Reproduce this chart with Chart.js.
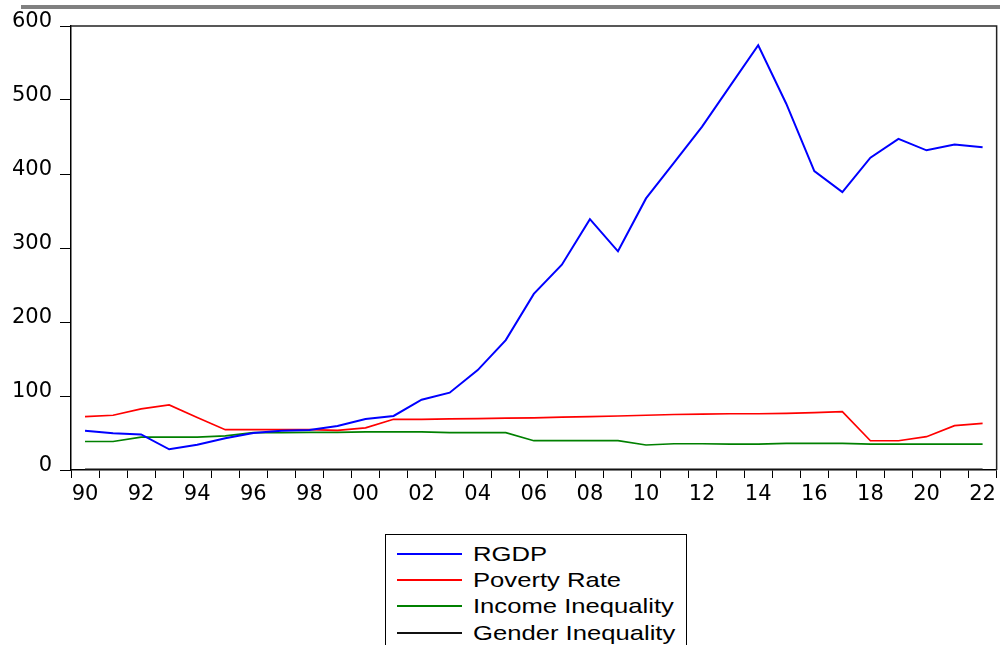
<!DOCTYPE html>
<html>
<head>
<meta charset="utf-8">
<script src="https://cdn.jsdelivr.net/npm/chart.js@4"></script>
<style>
  html, body { margin: 0; padding: 0; background: #fff; }
  #wrap { position: relative; width: 1000px; height: 645px; overflow: hidden; background: #fff; }
  #topbar { position: absolute; left: 21px; top: 5px; width: 979px; height: 4px; background: #808080; }
  #chart { position: absolute; left: 0; top: 0; }
  #legend { position: absolute; left: 385px; top: 534px; width: 302px; height: 130px;
            border: 1px solid #000; box-sizing: border-box; background: #fff; }
  .row { position: absolute; left: 0; height: 26px; width: 100%; }
  .swatch { position: absolute; left: 11px; width: 65px; height: 2px; top: 12px; }
  .lbl { position: absolute; left: 87px; top: 0; font-family: "Liberation Sans", Arial, sans-serif;
         font-size: 21px; line-height: 26px; color: #000; white-space: nowrap;
         transform: scaleX(1.22); transform-origin: 0 50%; }
</style>
</head>
<body>
<div id="wrap">
  <div id="topbar"></div>
  <canvas id="chart" width="1000" height="645"></canvas>
  <div id="legend"></div>
</div>
<script>
// ---- data ----
const years = ['90','91','92','93','94','95','96','97','98','99','00','01','02','03','04','05',
               '06','07','08','09','10','11','12','13','14','15','16','17','18','19','20','21','22'];
const rgdp = [53, 49.5, 48, 28, 34, 43, 50, 53, 54, 59.5, 69, 73, 95, 104.5, 135, 175.5,
              238, 277.5, 339, 295.5, 367, 415.5, 464, 519, 574, 495, 404, 375.5, 422, 447.5, 432, 440, 436];
const povertyRate = [72, 74, 82.5, 88, 71, 54.5, 54.5, 54.5, 54.5, 53.5, 57, 68.5, 68.5, 69, 69.5, 70,
                     70.5, 71.5, 72, 73, 74, 75, 75.5, 76, 76, 76.5, 77.5, 79, 39.5, 39.5, 45, 60, 63];
const incomeInequality = [38.5, 38.5, 44.5, 44.5, 44.5, 46, 50.4, 50.6, 50.8, 50.8, 51.4, 51.4, 51.4, 50.4, 50.4, 50.4,
                          39.6, 39.6, 39.6, 39.6, 33.8, 35.5, 35.5, 35, 35, 36, 36, 36, 35, 35, 35, 35, 35];
const genderInequality = [0.6, 0.6, 0.6, 0.6, 0.6, 0.6, 0.6, 0.6, 0.6, 0.6, 0.6, 0.6, 0.6, 0.6, 0.6, 0.6,
                          0.6, 0.6, 0.6, 0.6, 0.6, 0.6, 0.6, 0.6, 0.6, 0.6, 0.6, 0.6, 0.6, 0.6, 0.6, 0.6, 0.6];
const yTicks = [0, 100, 200, 300, 400, 500, 600];
const seriesNames = ['RGDP', 'Poverty Rate', 'Income Inequality', 'Gender Inequality'];
const seriesColors = ['#0000ff', '#ff0000', '#008000', '#111111'];

// ---- chart ----
const seriesData = [rgdp, povertyRate, incomeInequality, genderInequality];
const widths = [2, 1.7, 1.7, 2];
const datasets = seriesNames.map((n, i) => ({
  label: n, data: seriesData[i], borderColor: seriesColors[i], backgroundColor: seriesColors[i],
  borderWidth: widths[i], pointRadius: 0, tension: 0, fill: false
}));

const framePlugin = {
  id: 'frame',
  afterDatasetsDraw(chart) {
    const a = chart.chartArea, ctx = chart.ctx;
    ctx.save();
    ctx.strokeStyle = '#222';
    ctx.lineWidth = 1.5;
    ctx.beginPath();
    ctx.moveTo(a.left, a.top);
    ctx.lineTo(a.right, a.top);
    ctx.lineTo(a.right, a.bottom);
    ctx.stroke();
    ctx.restore();
  }
};

new Chart(document.getElementById('chart'), {
  type: 'line',
  data: { labels: years, datasets },
  plugins: [framePlugin],
  options: {
    responsive: false,
    animation: false,
    devicePixelRatio: 1,
    layout: { padding: { top: 26, right: 2, left: 0, bottom: 0 } },
    plugins: { legend: { display: false }, tooltip: { enabled: false } },
    scales: {
      x: {
        type: 'category',
        offset: true,
        grid: { offset: true, drawOnChartArea: false, drawTicks: true, tickLength: 8, color: '#000', lineWidth: 1 },
        border: { display: true, color: '#000', width: 1.5 },
        ticks: {
          autoSkip: false, maxRotation: 0, minRotation: 0, padding: 4, color: '#000',
          font: { family: 'DejaVu Sans', size: 21 },
          callback: (v, i) => (i % 2 === 0 ? years[i] : '')
        },
        afterFit: s => { s.height = 175; }
      },
      y: {
        type: 'linear',
        min: 0, max: 600,
        afterBuildTicks: s => { s.ticks = yTicks.map(v => ({ value: v })); },
        grid: { drawOnChartArea: false, drawTicks: true, tickLength: 11, color: '#000', lineWidth: 1 },
        border: { display: true, color: '#000', width: 1.5 },
        ticks: {
          padding: 8, color: '#000', labelOffset: -4,
          font: { family: 'DejaVu Sans', size: 21 }
        },
        afterFit: s => { s.width = 71; }
      }
    }
  }
});

// ---- legend (HTML, built from series arrays) ----
const leg = document.getElementById('legend');
seriesNames.forEach((n, i) => {
  const row = document.createElement('div');
  row.className = 'row';
  row.style.top = (6 + i * 26.2) + 'px';
  const sw = document.createElement('div');
  sw.className = 'swatch';
  sw.style.background = seriesColors[i];
  const t = document.createElement('div');
  t.className = 'lbl';
  t.textContent = n;
  row.appendChild(sw); row.appendChild(t);
  leg.appendChild(row);
});
</script>
</body>
</html>
